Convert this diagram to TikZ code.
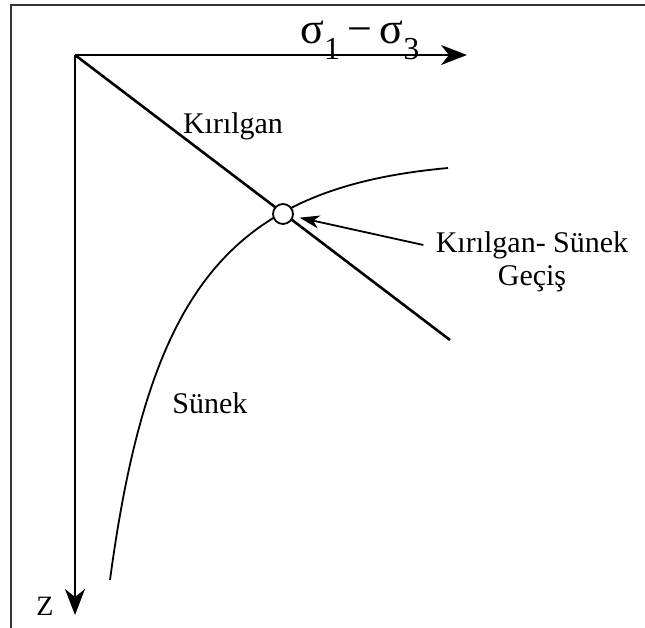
\documentclass[tikz,border=0pt]{standalone}
\usepackage{fontspec}
\setmainfont{Liberation Serif}
\usetikzlibrary{arrows.meta}

\newcommand{\sgsub}[1]{\raisebox{-0.8ex}{\fontsize{16}{18}\selectfont #1}}

\tikzset{
  axis/.style={line width=1pt, -{Stealth[length=13pt, width=10pt, inset=4pt]}},
  lbl/.style={font=\fontsize{15}{18}\selectfont, inner sep=0pt},
  ptr/.style={line width=0.9pt, -{Stealth[length=10pt, width=6.5pt, inset=3pt]}, shorten >=3pt}
}

\begin{document}
\begin{tikzpicture}[x=0.5pt, y=-0.5pt]
  \useasboundingbox (0,0) rectangle (645,628);
  % frame (top and left edges only)
  \draw[line width=1.3pt, black!80] (645,5) -- (11,5) -- (11,628);
  % axes
  \coordinate (o) at (75,55);
  \coordinate (xend) at (467,55);
  \coordinate (zend) at (75,615);
  \draw[axis] (o) -- (xend);
  \draw[axis] (o) -- (zend);
  \node[font=\fontsize{22}{26}\selectfont, inner sep=0pt, anchor=base west] (sig) at (300,43) {σ\sgsub{1}\,−\,σ\sgsub{3}};
  \node[font=\fontsize{14}{16}\selectfont, inner sep=0pt] (z) at (45,606) {Z};
  % brittle line and ductile curve
  \coordinate (bend) at (450,340);
  \coordinate (dlow) at (110,580);
  \coordinate (dhigh) at (448,168);
  \draw[line width=1.3pt] (o) -- (bend);
  \draw[line width=0.9pt] (dlow) .. controls (149,290) and (228,188) .. (dhigh);
  % transition point
  \node[circle, draw, fill=white, line width=0.9pt, minimum size=10pt, inner sep=0pt] (trans) at (283,214) {};
  \node[lbl] (kir) at (233,126) {Kırılgan};
  \node[lbl] (sun) at (210,403) {Sünek};
  \node[lbl, inner sep=6pt] (gec1) at (532,245) {Kırılgan- Sünek};
  \node[lbl] (gec2) at (532,279) {Geçiş};
  \draw[ptr] (gec1.west) -- (trans);
\end{tikzpicture}
\end{document}
